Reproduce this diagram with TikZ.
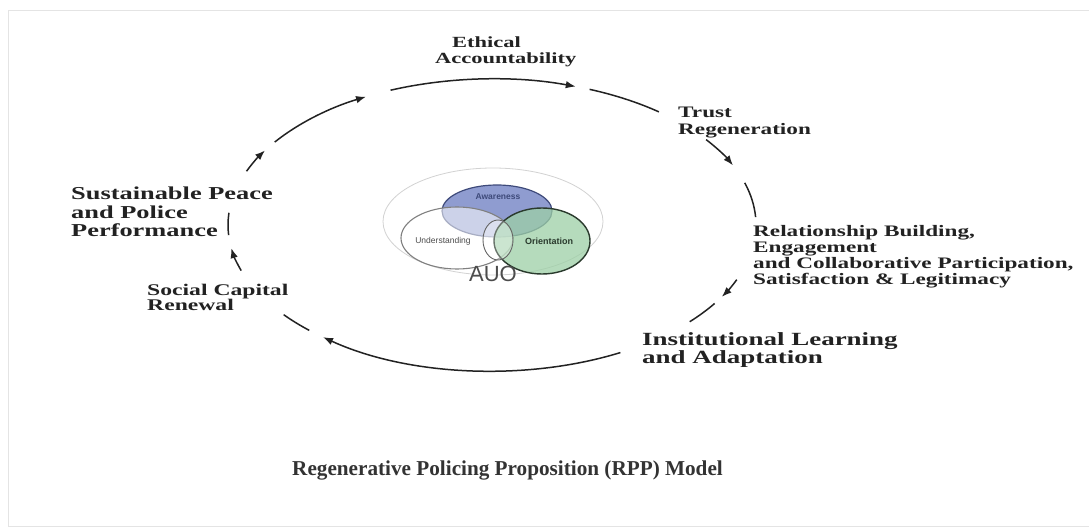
\documentclass[tikz,border=0pt]{standalone}
\usepackage{fontspec}
\setmainfont{Liberation Serif}
\newfontfamily\labfont{Liberation Serif}[FakeStretch=1.45]
\newfontfamily\auofont{Liberation Sans}
\usetikzlibrary{arrows.meta,calc}
\definecolor{ink}{HTML}{222222}
\definecolor{awfill}{HTML}{8F9CD0}
\definecolor{awline}{HTML}{3E4A7A}
\definecolor{orfill}{HTML}{9DD0A6}
\definecolor{orline}{HTML}{2A3A2D}
\definecolor{frame}{HTML}{E4E4E4}
\newcommand\cycpt[2]{\coordinate (#1) at ($(C)+({264*cos(#2)},{146*sin(#2)})$);}
\begin{document}
\begin{tikzpicture}[x=1pt,y=-1pt,
  cyc/.style={draw=ink,line width=1.5pt},
  tip/.style={-{Latex[length=10pt,width=7.5pt]}},
  lab/.style={anchor=base west,inner sep=0pt,text=ink},
  tiny/.style={inner sep=0pt,font=\auofont\fontsize{8.5}{8.5}\selectfont}]
\useasboundingbox (0,0) rectangle (1089,529);
\fill[white] (0,0) rectangle (1089,529);
\draw[frame,line width=1pt] (1089,11) -- (8,11) -- (8,526) -- (1089,526);

% cycle
\coordinate (C) at (492,225);
\cycpt{a1}{-112.6}\cycpt{a2}{-68.3}\cycpt{a3}{-35.8}\cycpt{a4}{-16.8}
\cycpt{a5}{22.0}\cycpt{a6}{32.5}\cycpt{a7}{60.9}\cycpt{a8}{133.8}
\cycpt{a9}{161.8}\cycpt{a10}{176.0}\cycpt{a11}{201.6}\cycpt{a12}{214.6}
\draw[cyc,tip] (a1) arc[start angle=-112.6,end angle=-71.5,x radius=264,y radius=146];
\draw[cyc] (a2) arc[start angle=-68.3,end angle=-50.8,x radius=264,y radius=146];
\draw[cyc,tip] (a3) arc[start angle=-35.8,end angle=-24.1,x radius=264,y radius=146];
\draw[cyc] (a4) arc[start angle=-16.8,end angle=-3.1,x radius=264,y radius=146];
\draw[cyc,tip] (a5) arc[start angle=22.0,end angle=29.5,x radius=264,y radius=146];
\draw[cyc] (a6) arc[start angle=32.5,end angle=41.5,x radius=264,y radius=146];
\draw[cyc,tip] (a7) arc[start angle=60.9,end angle=129.8,x radius=264,y radius=146];
\draw[cyc] (a8) arc[start angle=133.8,end angle=142.1,x radius=264,y radius=146];
\draw[cyc,tip] (a9) arc[start angle=161.8,end angle=170.9,x radius=264,y radius=146];
\draw[cyc] (a10) arc[start angle=176.0,end angle=184.8,x radius=264,y radius=146];
\draw[cyc,tip] (a11) arc[start angle=201.6,end angle=210.7,x radius=264,y radius=146];
\draw[cyc,tip] (a12) arc[start angle=214.6,end angle=241.5,x radius=264,y radius=146];

% labels
\node[lab,font=\labfont\bfseries\fontsize{15.5}{15}\selectfont] (ethical) at (435,48)
  {\begin{tabular}[t]{@{}l@{}}\hspace*{17pt}Ethical\\Accountability\end{tabular}};
\node[lab,font=\labfont\bfseries\fontsize{16}{17}\selectfont] (trust) at (678,118)
  {\begin{tabular}[t]{@{}l@{}}Trust\\Regeneration\end{tabular}};
\node[lab,font=\labfont\bfseries\fontsize{16}{15.4}\selectfont] (rel) at (753,237)
  {\begin{tabular}[t]{@{}l@{}}Relationship Building,\\Engagement\\and Collaborative Participation,\\Satisfaction \& Legitimacy\end{tabular}};
\node[lab,font=\labfont\bfseries\fontsize{18.6}{18.5}\selectfont] (inst) at (642,345)
  {\begin{tabular}[t]{@{}l@{}}Institutional Learning\\and Adaptation\end{tabular}};
\node[lab,font=\labfont\bfseries\fontsize{16.3}{15}\selectfont] (social) at (147,295)
  {\begin{tabular}[t]{@{}l@{}}Social Capital\\Renewal\end{tabular}};
\node[lab,font=\labfont\bfseries\fontsize{18.2}{18.5}\selectfont] (peace) at (71,200)
  {\begin{tabular}[t]{@{}l@{}}Sustainable Peace\\and Police\\Performance\end{tabular}};
\node[lab,text=black!80,font=\bfseries\fontsize{21.2}{21}\selectfont] (title) at (292,475)
  {Regenerative Policing Proposition (RPP) Model};

% AUO Venn
\draw[gray!35,line width=0.8pt] (493,221.5) ellipse[x radius=110,y radius=53.5];
\filldraw[fill=awfill,draw=awline,line width=1.2pt] (497,211) ellipse[x radius=55,y radius=26];
\filldraw[fill=white,fill opacity=0.55,draw=gray,draw opacity=1,line width=1.1pt] (457,238) ellipse[x radius=56,y radius=31];
\filldraw[fill=orfill,fill opacity=0.75,draw=orline,draw opacity=1,line width=1.4pt] (542,241) ellipse[x radius=48,y radius=33];
\filldraw[fill=white,fill opacity=0.3,draw=gray!80!black,draw opacity=1,line width=0.9pt] (498,240) ellipse[x radius=15,y radius=20];
\node[tiny,text=awline,font=\auofont\bfseries\fontsize{8.5}{8.5}\selectfont] (aw) at (498,197) {Awareness};
\node[tiny,text=black!70] (un) at (443,241) {Understanding};
\node[tiny,text=orline,font=\auofont\bfseries\fontsize{9}{9}\selectfont] (or) at (549,241) {Orientation};
\node[anchor=base,inner sep=0pt,text=black!70,font=\auofont\fontsize{22}{22}\selectfont] (auo) at (493,282) {AUO};
\end{tikzpicture}
\end{document}
